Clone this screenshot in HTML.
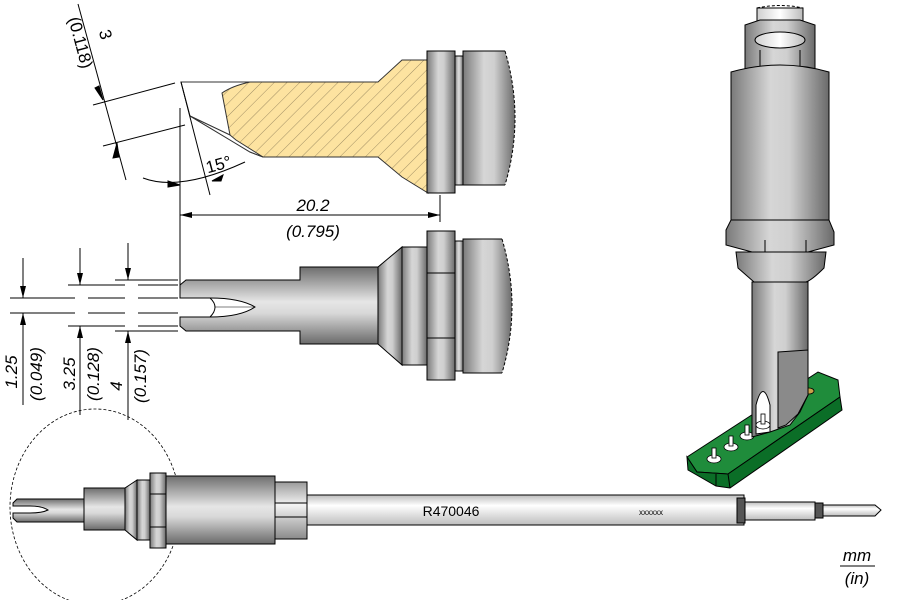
<!DOCTYPE html>
<html><head><meta charset="utf-8"><style>
html,body{margin:0;padding:0;background:#fff;}
svg{display:block;font-family:"Liberation Sans",sans-serif;}
</style></head><body>
<svg width="900" height="600" viewBox="0 0 900 600" xmlns="http://www.w3.org/2000/svg">
<defs>
<linearGradient id="gv" x1="0" y1="0" x2="0" y2="1">
<stop offset="0" stop-color="#6e6e6e"/><stop offset="0.45" stop-color="#e6e6e6"/><stop offset="0.6" stop-color="#d8d8d8"/><stop offset="1" stop-color="#6a6a6a"/></linearGradient>
<linearGradient id="gvl" x1="0" y1="0" x2="0" y2="1">
<stop offset="0" stop-color="#9a9a9a"/><stop offset="0.4" stop-color="#f4f4f4"/><stop offset="1" stop-color="#8a8a8a"/></linearGradient>
<linearGradient id="gw" x1="0" y1="0" x2="0" y2="1">
<stop offset="0" stop-color="#bdbdbd"/><stop offset="0.35" stop-color="#ffffff"/><stop offset="1" stop-color="#bdbdbd"/></linearGradient>
<linearGradient id="gh" x1="0" y1="0" x2="1" y2="0">
<stop offset="0" stop-color="#7a7a7a"/><stop offset="0.4" stop-color="#d6d6d6"/><stop offset="0.6" stop-color="#cfcfcf"/><stop offset="1" stop-color="#6a6a6a"/></linearGradient>
<linearGradient id="ghw" x1="0" y1="0" x2="1" y2="0">
<stop offset="0" stop-color="#cfcfcf"/><stop offset="0.5" stop-color="#ffffff"/><stop offset="1" stop-color="#bbbbbb"/></linearGradient>
<pattern id="hatch" width="9" height="9" patternUnits="userSpaceOnUse" patternTransform="rotate(45)">
<rect width="9" height="9" fill="#fde3a0"/><line x1="0" y1="0" x2="0" y2="9" stroke="#8a7a55" stroke-width="0.8"/></pattern>
<marker id="ar" viewBox="0 0 10 10" refX="10" refY="5" markerWidth="12" markerHeight="12" orient="auto-start-reverse" markerUnits="userSpaceOnUse"><path d="M0,2.5 L10,5 L0,7.5 z" fill="#000"/></marker>
</defs>
<g stroke="#000" stroke-width="1" fill="none">
<!-- TOP SECTION VIEW -->
<path d="M181,82 L378,82 L402,60 L428,60 L428,193 L402,177 L378,157 L263,157 L250,152 L230,140 L190,116 Z" fill="url(#hatch)" stroke="#333"/>
<path d="M181,82 L250,82 Q232,86 222,93 L230,135 L190,116 Z" fill="#fff" stroke="#333"/>
<path d="M190,116 L230,135 L236,140 L263,157 L250,152 L230,140 Z" fill="#fff" stroke="#333"/>
<rect x="427" y="51" width="28" height="142" fill="url(#gh)"/>
<rect x="455" y="56" width="8" height="129" fill="url(#gh)"/>
<path d="M463,51 L505,51 Q525,118 505,185 L463,185 Z" fill="url(#gh)" stroke="none"/>
<path d="M505,51 L463,51 L463,185 L505,185"/>
<path d="M505,51 Q525,118 505,185" stroke-dasharray="3,2"/>
<!-- top dims -->
<line x1="78" y1="4" x2="126" y2="180"/>
<path d="M95,88 L103,100 L99,86 Z" fill="#000"/>
<path d="M113,158 L117,143 L119,157 Z" fill="#000"/>
<line x1="93" y1="105" x2="175" y2="83"/>
<line x1="103" y1="146" x2="185" y2="125"/>
<line x1="180" y1="108" x2="180" y2="200"/>
<line x1="181" y1="82" x2="210" y2="195"/>
<path d="M143,178 Q180,192 245,162"/>
<path d="M168,181 L180,185 L168,187 Z" fill="#000"/>
<path d="M223,175 L212,181 L221,181 Z" fill="#000"/>
<!-- 20.2 dims -->
<line x1="180" y1="110" x2="180" y2="290"/>
<line x1="440" y1="195" x2="440" y2="222"/>
<line x1="180" y1="215" x2="440" y2="215" marker-start="url(#ar)" marker-end="url(#ar)"/>
<!-- MIDDLE VIEW -->
<path d="M186,280 L300,280 L300,267 L378,267 L378,344 L300,344 L300,331 L186,331 L180,326 L180,317 L210,317 Q240,317 255,307 Q240,298 210,298 L180,298 L180,285 Z" fill="url(#gv)"/>
<path d="M210,298 Q220,307 210,317"/>
<line x1="215" y1="307" x2="255" y2="307" stroke-width="0.6"/>
<path d="M378,267 L402,247 L402,365 L378,344 Z" fill="url(#gh)"/>
<rect x="402" y="247" width="25" height="118" fill="url(#gh)"/>
<rect x="427" y="231" width="28" height="149" fill="url(#gh)"/>
<line x1="427" y1="273" x2="455" y2="273"/><line x1="427" y1="338" x2="455" y2="338"/>
<rect x="455" y="241" width="8" height="130" fill="url(#gh)"/>
<path d="M463,239 L502,239 Q522,306 502,373 L463,373 Z" fill="url(#gh)" stroke="none"/>
<path d="M502,239 L463,239 L463,373 L502,373"/>
<path d="M502,239 Q522,306 502,373" stroke-dasharray="3,2"/>
<!-- left dims -->
<g stroke-width="0.9">
<path d="M10,298 H75 M88,298 H125 M138,298 H178"/>
<path d="M10,313 H75 M88,313 H125 M138,313 H178"/>
<path d="M68,285 H125 M138,285 H178"/>
<path d="M68,326 H125 M138,326 H178"/>
<path d="M115,280 H178"/><path d="M115,331 H178"/>
</g>
<line x1="23" y1="258" x2="23" y2="298" marker-end="url(#ar)"/>
<line x1="23" y1="405" x2="23" y2="313" marker-end="url(#ar)"/>
<line x1="80" y1="248" x2="80" y2="285" marker-end="url(#ar)"/>
<line x1="80" y1="415" x2="80" y2="326" marker-end="url(#ar)"/>
<line x1="128" y1="243" x2="128" y2="280" marker-end="url(#ar)"/>
<line x1="128" y1="420" x2="128" y2="331" marker-end="url(#ar)"/>
<!-- BOTTOM VIEW -->
<ellipse cx="95" cy="507" rx="85" ry="98" stroke-dasharray="3,2" stroke-width="0.8"/>
<path d="M17,499 L84,499 L84,522 L17,522 L13,518 L13,513 L30,513 Q42,513 48,510 Q42,506 30,506 L13,506 L13,503 Z" fill="url(#gv)"/>
<rect x="84" y="488" width="41" height="42" fill="url(#gv)"/>
<path d="M125,488 L137,480 L137,540 L125,530 Z" fill="url(#gh)"/>
<rect x="137" y="480" width="13" height="60" fill="url(#gh)"/>
<rect x="150" y="473" width="16" height="75" fill="url(#gh)"/>
<line x1="150" y1="494" x2="166" y2="494"/><line x1="150" y1="527" x2="166" y2="527"/>
<rect x="166" y="476" width="109" height="68" fill="url(#gv)"/>
<rect x="275" y="482" width="32" height="57" fill="url(#gvl)"/>
<line x1="275" y1="503" x2="307" y2="503"/><line x1="275" y1="517" x2="307" y2="517"/>
<rect x="307" y="495" width="437" height="30" fill="url(#gw)"/>
<rect x="737" y="498" width="8" height="25" fill="#555"/>
<rect x="745" y="502" width="70" height="18" fill="url(#gw)"/>
<rect x="815" y="503" width="8" height="15" fill="#555"/>
<path d="M823,505 L875,505 L881,510 L875,516 L823,516 Z" fill="url(#gw)"/>
<!-- 3D VIEW -->
<path d="M687,457 L818,372 L838,380 L840,397 L728,474 L697,472 Z" fill="#1f8c3b"/>
<path d="M687,457 L697,472 L728,474 L840,397 L842,410 L730,488 L716,486 L688,470 Z" fill="#0b6e27"/>
<line x1="716" y1="474" x2="716" y2="486"/>
<line x1="728" y1="474" x2="730" y2="488"/>
<g fill="#fff" stroke="#000" stroke-width="0.8">
<ellipse cx="714" cy="459" rx="7" ry="4"/><rect x="712" y="448" width="4" height="10"/>
<ellipse cx="731" cy="447" rx="7" ry="4"/><rect x="729" y="436" width="4" height="10"/>
<ellipse cx="747" cy="436" rx="7" ry="4"/><rect x="745" y="425" width="4" height="10"/>
<ellipse cx="809" cy="391" rx="5" ry="3" fill="#caa24a"/>
</g>
<path d="M757,8 L803,8 L803,45 L757,45 Z" fill="url(#ghw)"/>
<path d="M757,8 Q780,3 803,8" stroke-dasharray="3,2"/>
<path d="M745,25 L760,20 L800,20 L815,25 L815,85 L800,92 L760,92 L745,85 Z" fill="url(#gh)"/>
<line x1="760" y1="50" x2="760" y2="92"/><line x1="800" y1="50" x2="800" y2="92"/>
<ellipse cx="780" cy="40" rx="25" ry="8" fill="url(#ghw)"/>
<path d="M731,72 Q780,58 829,72 L829,220 L731,220 Z" fill="url(#gh)"/>
<path d="M731,220 L829,220 L834,232 L834,245 L808,252 L752,252 L726,245 L726,230 Z" fill="url(#gh)"/>
<line x1="765" y1="240" x2="765" y2="252"/><line x1="806" y1="240" x2="806" y2="252"/>
<path d="M736,252 L826,252 L824,268 Q812,280 806,282 L754,282 Q746,275 738,268 Z" fill="url(#gh)"/>
<path d="M752,282 L808,282 L808,395 L800,412 L790,425 L770,432 L752,437 Z" fill="url(#gh)"/>
<path d="M778,352 L808,350 L808,395 L798,414 L786,425 L778,428 Z" fill="#8a8a8a"/>
<path d="M756,405 Q763,378 770,405 L770,432 L756,434 Z" fill="#fff"/>
<g fill="#fff" stroke="#000" stroke-width="0.8">
<ellipse cx="763" cy="425" rx="7" ry="4"/><rect x="761" y="414" width="4" height="10"/>
</g>
</g>
<!-- TEXT -->
<g font-size="17" fill="#000">
<text transform="translate(100,36) rotate(75)" text-anchor="middle">3</text>
<text transform="translate(75,44) rotate(75)" text-anchor="middle">(0.118)</text>
<text transform="translate(220,170) rotate(-15)" text-anchor="middle">15°</text>
<text x="313" y="211" text-anchor="middle" font-style="italic">20.2</text>
<text x="313" y="237" text-anchor="middle" font-style="italic">(0.795)</text>
<text transform="translate(17,372) rotate(-90)" text-anchor="middle" font-style="italic">1.25</text>
<text transform="translate(42,374) rotate(-90)" text-anchor="middle" font-style="italic">(0.049)</text>
<text transform="translate(75,374) rotate(-90)" text-anchor="middle" font-style="italic">3.25</text>
<text transform="translate(99,374) rotate(-90)" text-anchor="middle" font-style="italic">(0.128)</text>
<text transform="translate(122,386) rotate(-90)" text-anchor="middle" font-style="italic">4</text>
<text transform="translate(146,376) rotate(-90)" text-anchor="middle" font-style="italic">(0.157)</text>
<text x="451" y="516" text-anchor="middle" font-size="14">R470046</text>
<text x="651" y="515" text-anchor="middle" font-size="8">xxxxxx</text>
<text x="857" y="561" text-anchor="middle" font-style="italic">mm</text>
<text x="857" y="584" text-anchor="middle" font-style="italic">(in)</text>
</g>
<line x1="840" y1="566" x2="875" y2="566" stroke="#000"/>
</svg>
</body></html>
